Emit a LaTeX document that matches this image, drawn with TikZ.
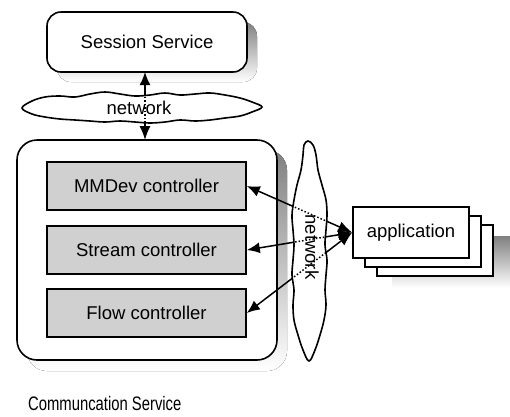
\documentclass[tikz,border=0pt]{standalone}
\usepackage{fontspec}
\setmainfont{Liberation Sans}
\newfontfamily\narrowfont[FakeStretch=0.76]{Liberation Sans}
\usetikzlibrary{arrows.meta,calc}
\definecolor{shade}{HTML}{C0C0C0}
\definecolor{boxfill}{HTML}{D0D0D0}
\tikzset{
  lbl/.style={font=\fontsize{18.5}{20}\selectfont},
  outline/.style={draw=black,line width=1.6pt},
  shadow/.style={fill=shade,draw=none},
  ctrl/.style={outline,fill=boxfill,minimum width=199pt,minimum height=48pt,inner sep=0pt,lbl},
  appbox/.style={outline,fill=white,minimum width=116pt,minimum height=51pt,inner sep=0pt,lbl},
  link/.style={line width=1.5pt,{Latex[length=13pt,width=11pt]}-{Latex[length=14pt,width=11pt]}},
  dotlink/.style={line width=1.5pt,dotted},
  cloud/.style={outline,fill=white},
}
\def\hcloud{plot[smooth cycle,tension=0.6] coordinates {(22,108) (32,101) (45,97) (60,96) (75,97) (90,94) (105,92) (120,94) (135,96) (150,95) (165,93) (180,95) (195,94) (210,93) (225,95) (240,98) (252,102) (262,107) (252,112) (240,116) (225,118) (210,120) (195,121) (180,120) (165,122) (150,123) (135,122) (120,121) (105,122) (90,121) (75,120) (60,119) (45,117) (32,114)}}
\def\vcloud{plot[smooth cycle,tension=0.6] coordinates {(308,141) (313,145) (316,155) (318,170) (322,185) (326,200) (327,215) (326,230) (325,245) (327,260) (326,275) (325,290) (326,305) (324,320) (320,335) (315,350) (309,361) (303,350) (298,335) (294,320) (293,305) (294,290) (292,275) (293,260) (294,245) (293,230) (292,215) (294,200) (297,185) (301,170) (303,155) (304,145)}}
\begin{document}
\begin{tikzpicture}[x=1pt,y=-1pt]
\useasboundingbox (0,0) rectangle (510,416);
% shadows
\fill[shade,rounded corners=14pt] (57,22) rectangle (257,82);
\fill[shade,rounded corners=20pt] (27,150) rectangle (287,371);
\fill[shade] (392,236) rectangle (510,288);
% session
\node[outline,fill=white,rounded corners=14pt,minimum width=200pt,minimum height=60pt,inner sep=0pt,lbl] (session) at (147,42) {Session Service};
% communication service box
\node[outline,fill=white,rounded corners=20pt,minimum width=260pt,minimum height=220pt,inner sep=0pt] (comm) at (147,250) {};
\node[ctrl] (mmdev) at (146.5,186) {MMDev controller};
\node[ctrl] (stream) at (146.5,250) {Stream controller};
\node[ctrl] (flow) at (146.5,313) {Flow controller};
% applications
\node[appbox] (app3) at (435,250.5) {};
\node[appbox] (app2) at (423,241.5) {};
\node[appbox] (app) at (411,232.5) {application};
% coordinates
\coordinate (sesbot) at (145,72);
\coordinate (commtop) at (145,140);
% arrows
\draw[link] (sesbot) -- (commtop);
\draw[link] (mmdev.east) -- (app.west);
\draw[link] (stream.east) -- (app.west);
\draw[link] (flow.east) -- (app.west);
% clouds
\draw[cloud] \hcloud;
\draw[cloud] \vcloud;
\begin{scope}
\clip \hcloud;
\draw[dotlink] (sesbot) -- (commtop);
\end{scope}
\begin{scope}
\clip \vcloud;
\draw[dotlink] (mmdev.east) -- (app.west);
\draw[dotlink] (stream.east) -- (app.west);
\draw[dotlink] (flow.east) -- (app.west);
\end{scope}
\node[lbl,inner sep=0pt] (hnet) at (139,108) {network};
\node[lbl,inner sep=0pt,rotate=-90] (vnet) at (312,247) {network};
\node[anchor=west,inner sep=0pt,font=\narrowfont\fontsize{19.5}{21}\selectfont] (caption) at (28,404) {Communcation Service};
\end{tikzpicture}
\end{document}
